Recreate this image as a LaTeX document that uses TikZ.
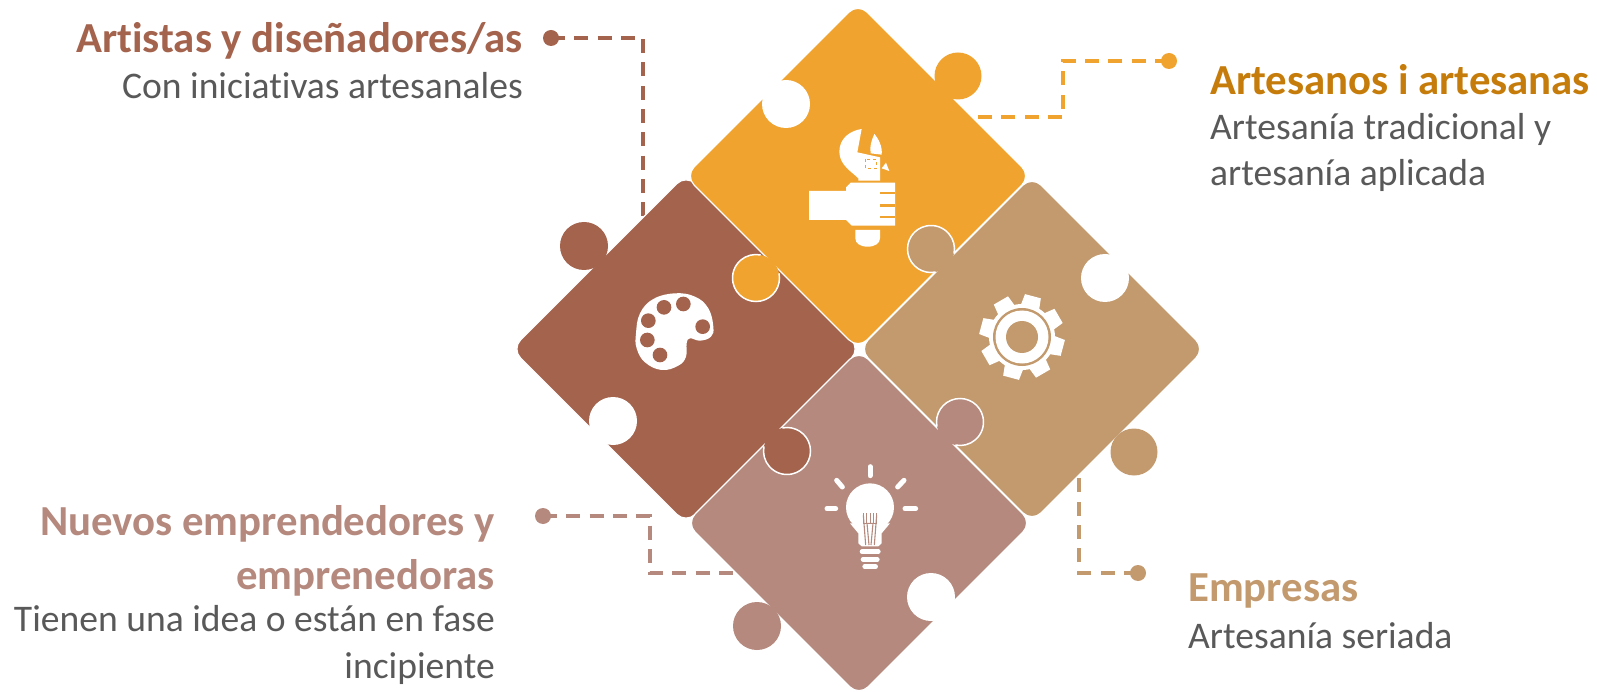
\documentclass[tikz,border=0pt]{standalone}
\usepackage{fontspec}
\setmainfont[Ligatures=NoCommon]{Carlito}
\usetikzlibrary{shapes.geometric}
\definecolor{brownp}{HTML}{A4634D}
\definecolor{orangep}{HTML}{F0A32F}
\definecolor{tanp}{HTML}{C39A6E}
\definecolor{mauvep}{HTML}{B5897D}
\definecolor{orangetxt}{HTML}{C67C0A}
\definecolor{greytxt}{HTML}{595959}
\tikzset{
  piece/.style={diamond,aspect=1,draw=white,line width=1.2pt,fill=#1,minimum width=346pt,minimum height=346pt,inner sep=0pt,outer sep=0pt,rounded corners=13pt},
  dotnode/.style={circle,fill=#1,minimum size=16pt,inner sep=0pt,outer sep=0pt},
  dashline/.style={draw=#1,line width=3.2pt,dash pattern=on 14pt off 9.3pt},
  title/.style={font=\fontsize{42.8}{54}\selectfont\bfseries,inner sep=0pt,text=#1},
  desc/.style={font=\fontsize{37.6}{46.5}\selectfont,inner sep=0pt,text=greytxt},
}
% knob: centre, direction towards the owner, colour
\newcommand{\knob}[4]{
  \fill[#4] (#1,#2) circle[radius=23.5];
  \draw[white,line width=1.5pt] (#1,#2) ++(#3+33.5:23.5) arc[start angle=#3+33.5,delta angle=293,radius=23.5];
}
\begin{document}
\begin{tikzpicture}[x=1pt,y=-1pt]
  \useasboundingbox (0,0) rectangle (1597,692);

  %% dashed connectors
  \node[dotnode=brownp] (dotBrown) at (551,38) {};
  \coordinate (cornerBrown) at (643,38);
  \coordinate (endBrown) at (643,218);
  \draw[dashline=brownp] (dotBrown.center) -- (cornerBrown) -- (endBrown);

  \node[dotnode=orangep] (dotOrange) at (1169,61) {};
  \coordinate (cornerOrangeA) at (1063,61);
  \coordinate (cornerOrangeB) at (1063,117);
  \coordinate (endOrange) at (978,117);
  \draw[dashline=orangep] (dotOrange.center) -- (cornerOrangeA) -- (cornerOrangeB) -- (endOrange);

  \node[dotnode=tanp] (dotTan) at (1138,573) {};
  \coordinate (cornerTan) at (1079,573);
  \coordinate (endTan) at (1079,478);
  \draw[dashline=tanp] (dotTan.center) -- (cornerTan) -- (endTan);

  \node[dotnode=mauvep] (dotMauve) at (543,516) {};
  \coordinate (cornerMauveA) at (650,516);
  \coordinate (cornerMauveB) at (650,573);
  \coordinate (endMauve) at (736,573);
  \draw[dashline=mauvep] (dotMauve.center) -- (cornerMauveA) -- (cornerMauveB) -- (endMauve);

  %% the four pieces
  \node[piece=brownp,minimum width=349pt,minimum height=349pt] (brownPiece) at (686,349) {};
  \node[piece=mauvep] (mauvePiece) at (859,523) {};
  \node[piece=tanp] (tanPiece) at (1032,349) {};
  \node[piece=orangep] (orangePiece) at (858,176) {};

  %% outer knobs and holes
  \fill[orangep] (958,76) circle[radius=23.5];
  \fill[brownp] (584,246) circle[radius=24];
  \fill[tanp] (1134,452) circle[radius=23.5];
  \fill[mauvep] (757,626) circle[radius=24];
  \fill[white] (786,104) circle[radius=24];
  \fill[white] (613,421) circle[radius=24];
  \fill[white] (1105,278) circle[radius=24];
  \fill[white] (931,597) circle[radius=24];

  %% inner knobs
  \knob{756}{278}{-45}{orangep}
  \knob{931}{249}{45}{tanp}
  \knob{960}{422}{135}{mauvep}
  \knob{787}{451}{-135}{brownp}

  %% hand and wrench
  \begin{scope}[shift={(780,110)},x=0.3333pt,y=-0.3333pt]
    \fill[white] (87,243) -- (198,243) -- (198,232) -- (212,218) -- (345,218) -- (345,347) -- (215,347) -- (198,330) -- (87,330) -- cycle;
    \fill[orangep] (300,245) rectangle (345,252);
    \fill[orangep] (300,282) rectangle (345,290);
    \fill[orangep] (300,318) rectangle (345,325);
    \fill[white] (226,360) -- (300,360) -- (300,385) .. controls (300,400) and (285,410) .. (263,410) .. controls (240,410) and (226,400) .. (226,385) -- cycle;
    \fill[white] (245,57) .. controls (210,62) and (178,85) .. (178,125) .. controls (178,165) and (215,185) .. (235,205) -- (235,212) -- (300,212) -- (300,142) -- (232,127) -- cycle;
    \fill[white] (283,72) .. controls (275,90) and (268,110) .. (272,130) -- (305,134) .. controls (308,110) and (295,85) .. (283,72) -- cycle;
    \fill[white] (305,175) -- (318,158) -- (328,183) -- cycle;
    \draw[orangep,line width=0.7pt,dashed] (255,147) rectangle (288,175);
  \end{scope}

  %% palette
  \begin{scope}[shift={(610,275)},x=0.3333pt,y=-0.3333pt]
    \fill[white] plot[smooth cycle,tension=0.7] coordinates {(78,175) (90,115) (130,72) (195,55) (255,65) (295,100) (310,155) (303,185) (270,197) (240,190) (230,205) (228,245) (205,272) (155,285) (105,262) (80,220)};
    \foreach \dx/\dy in {115/137,162/97,220/87,278/155,112/195,150/240}
      \fill[brownp] (\dx,\dy) circle[radius=22];
  \end{scope}

  %% gear
  \begin{scope}[shift={(1022,337)}]
    \fill[white] (0,0) circle[radius=33];
    \foreach \a in {-75,-30,...,240}
      \fill[white] (\a-18:31) -- (\a-11:43) -- (\a+11:43) -- (\a+18:31) -- cycle;
    \fill[tanp] (0,0) circle[radius=29];
    \fill[white] (0,0) circle[radius=26.5];
    \fill[tanp] (0,0) circle[radius=16];
  \end{scope}

  %% bulb
  \begin{scope}[shift={(795,445)},x=0.3333pt,y=-0.3333pt]
    \fill[white] (225,187) circle[radius=72];
    \fill[white] (165,235) -- (190,265) -- (190,295) -- (200,304) -- (250,304) -- (260,295) -- (260,265) -- (285,235) -- cycle;
    \draw[mauvep,line width=1.1pt] (212,300) -- (205,210);
    \draw[mauvep,line width=1.1pt] (238,300) -- (245,210);
    \draw[mauvep,line width=1.1pt] (222,300) -- (216,235) -- (234,235) -- (228,300);
    \draw[mauvep,line width=1.1pt] (205,235) -- (245,235);
    \foreach \tx in {205,215,225,235,245}
      \draw[mauvep,line width=0.9pt] (\tx,205) -- (\tx,235);
    \foreach \ax/\ay/\bx/\by in {225/65/225/92,125/106/142/126,327/106/308/126,96/191/122/191,330/191/362/191}
      \draw[white,line width=5pt,line cap=round] (\ax,\ay) -- (\bx,\by);
    \draw[white,line width=4.6pt,line cap=round] (201,320) -- (250,320);
    \draw[white,line width=4.6pt,line cap=round] (204,343) -- (247,343);
    \draw[white,line width=4.6pt,line cap=round] (209,365) -- (242,365);
  \end{scope}

  %% labels
  \node[title=brownp,anchor=base east] (titleBrown) at (523,53) {Artistas y diseñadores/as};
  \node[desc,anchor=base east] (descBrown) at (523,99) {Con iniciativas artesanales};

  \node[title=orangetxt,anchor=base west] (titleOrange) at (1210,95) {Artesanos i artesanas};
  \node[desc,anchor=base west,align=left] (descOrange) at (1210,186) {Artesanía tradicional y\\artesanía aplicada};

  \node[title=tanp,anchor=base west] (titleTan) at (1188,601) {Empresas};
  \node[desc,anchor=base west] (descTan) at (1188,648) {Artesanía seriada};

  \node[title=mauvep,anchor=base east,align=right] (titleMauve) at (495,589) {Nuevos emprendedores y\\emprenedoras};
  \node[desc,anchor=base east,align=right] (descMauve) at (495,678) {Tienen una idea o están en fase\\incipiente};
\end{tikzpicture}
\end{document}
